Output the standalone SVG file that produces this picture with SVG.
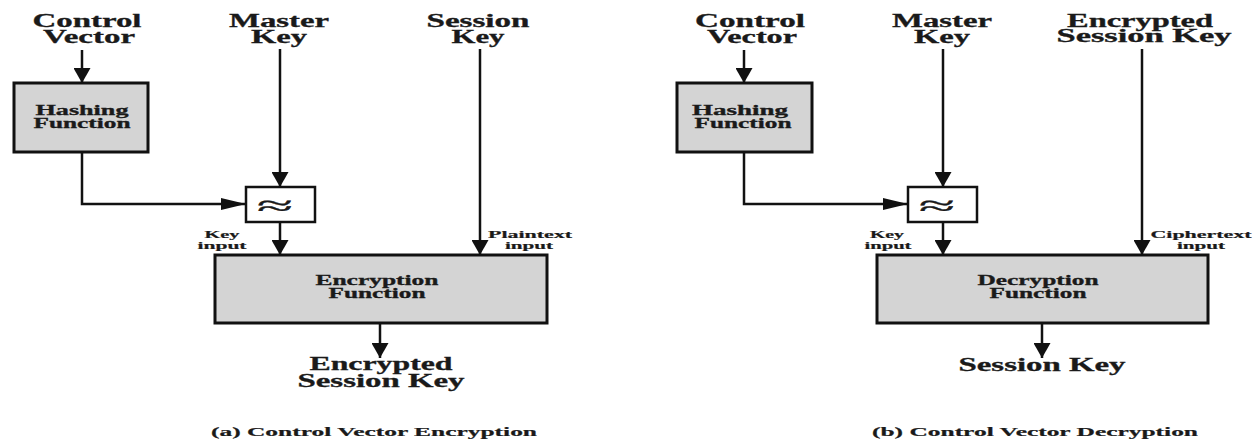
<svg xmlns="http://www.w3.org/2000/svg" width="1255" height="440" viewBox="0 0 1255 440">
  <style>
    text { font-family: "Liberation Serif", "Times New Roman", serif; font-weight: bold; fill: #1a1a1a; stroke: #1a1a1a; stroke-width: 0.3; text-anchor: middle; }
    .big { font-size: 18px; }
    .mid { font-size: 14px; }
    .small { font-size: 11px; stroke-width: 0.2; }
    .cap { font-size: 12px; stroke-width: 0.2; }
    .sym { font-size: 28px; font-weight: normal; stroke-width: 0.4; }
    .box { fill: #d4d4d4; stroke: #111; stroke-width: 3; }
    .xbox { fill: #ffffff; stroke: #111; stroke-width: 2.5; }
    .wire { fill: none; stroke: #111; stroke-width: 2.5; }
    .down { marker-end: url(#ahV); }
    .right { marker-end: url(#ahH); }
  </style>
  <defs>
    <!-- vertical arrows get a wide, short head; horizontal ones a long, flat head -->
    <marker id="ahV" markerUnits="userSpaceOnUse" markerWidth="15" markerHeight="17" refX="15" refY="8.5" orient="auto">
      <path d="M0,0 L15,8.5 L0,17 z" fill="#111"/>
    </marker>
    <marker id="ahH" markerUnits="userSpaceOnUse" markerWidth="25" markerHeight="12" refX="25" refY="6" orient="auto">
      <path d="M0,0 L25,6 L0,12 z" fill="#111"/>
    </marker>
  </defs>

  <!-- ===== (a) Control Vector Encryption ===== -->
  <g id="a-control-vector">
    <text class="big" x="87" y="27" textLength="109" lengthAdjust="spacingAndGlyphs">Control</text>
    <text class="big" x="89" y="43" textLength="92" lengthAdjust="spacingAndGlyphs">Vector</text>
  </g>
  <g id="a-master-key">
    <text class="big" x="279" y="27" textLength="100" lengthAdjust="spacingAndGlyphs">Master</text>
    <text class="big" x="279" y="43" textLength="56" lengthAdjust="spacingAndGlyphs">Key</text>
  </g>
  <g id="a-session-key">
    <text class="big" x="478" y="27" textLength="103" lengthAdjust="spacingAndGlyphs">Session</text>
    <text class="big" x="478" y="43" textLength="53" lengthAdjust="spacingAndGlyphs">Key</text>
  </g>
  <g id="a-hashing">
    <rect class="box" x="14" y="83" width="134" height="69"/>
    <text class="mid" x="82" y="115" textLength="93" lengthAdjust="spacingAndGlyphs">Hashing</text>
    <text class="mid" x="82" y="128" textLength="97" lengthAdjust="spacingAndGlyphs">Function</text>
  </g>
  <g id="a-combine">
    <rect class="xbox" x="246" y="187" width="69" height="35"/>
    <text class="sym" x="275" y="215" textLength="36" lengthAdjust="spacingAndGlyphs">≈</text>
  </g>
  <g id="a-encryption">
    <rect class="box" x="215" y="255" width="332" height="68"/>
    <text class="mid" x="377" y="285" textLength="123" lengthAdjust="spacingAndGlyphs">Encryption</text>
    <text class="mid" x="377" y="298" textLength="97" lengthAdjust="spacingAndGlyphs">Function</text>
  </g>
  <g id="a-key-input">
    <text class="small" x="222" y="238" textLength="35" lengthAdjust="spacingAndGlyphs">Key</text>
    <text class="small" x="222" y="249" textLength="49" lengthAdjust="spacingAndGlyphs">input</text>
  </g>
  <g id="a-plaintext-input">
    <text class="small" x="530" y="238" textLength="84" lengthAdjust="spacingAndGlyphs">Plaintext</text>
    <text class="small" x="529" y="249" textLength="48" lengthAdjust="spacingAndGlyphs">input</text>
  </g>
  <g id="a-output">
    <text class="big" x="381" y="370" textLength="143" lengthAdjust="spacingAndGlyphs">Encrypted</text>
    <text class="big" x="381" y="387" textLength="167" lengthAdjust="spacingAndGlyphs">Session Key</text>
  </g>
  <g id="a-caption">
    <text class="cap" x="374" y="436" textLength="326" lengthAdjust="spacingAndGlyphs">(a) Control Vector Encryption</text>
  </g>

  <!-- ===== (b) Control Vector Decryption ===== -->
  <g id="b-control-vector">
    <text class="big" x="750" y="27" textLength="110" lengthAdjust="spacingAndGlyphs">Control</text>
    <text class="big" x="752" y="43" textLength="90" lengthAdjust="spacingAndGlyphs">Vector</text>
  </g>
  <g id="b-master-key">
    <text class="big" x="942" y="27" textLength="100" lengthAdjust="spacingAndGlyphs">Master</text>
    <text class="big" x="942" y="43" textLength="56" lengthAdjust="spacingAndGlyphs">Key</text>
  </g>
  <g id="b-encrypted-session-key">
    <text class="big" x="1140" y="27" textLength="146" lengthAdjust="spacingAndGlyphs">Encrypted</text>
    <text class="big" x="1144" y="42" textLength="175" lengthAdjust="spacingAndGlyphs">Session Key</text>
  </g>
  <g id="b-hashing">
    <rect class="box" x="677" y="83" width="135" height="69"/>
    <text class="mid" x="740" y="115" textLength="96" lengthAdjust="spacingAndGlyphs">Hashing</text>
    <text class="mid" x="743" y="128" textLength="97" lengthAdjust="spacingAndGlyphs">Function</text>
  </g>
  <g id="b-combine">
    <rect class="xbox" x="908" y="187" width="69" height="35"/>
    <text class="sym" x="937" y="215" textLength="36" lengthAdjust="spacingAndGlyphs">≈</text>
  </g>
  <g id="b-decryption">
    <rect class="box" x="877" y="255" width="331" height="68"/>
    <text class="mid" x="1038" y="285" textLength="121" lengthAdjust="spacingAndGlyphs">Decryption</text>
    <text class="mid" x="1038" y="298" textLength="97" lengthAdjust="spacingAndGlyphs">Function</text>
  </g>
  <g id="b-key-input">
    <text class="small" x="887" y="238" textLength="34" lengthAdjust="spacingAndGlyphs">Key</text>
    <text class="small" x="888" y="249" textLength="47" lengthAdjust="spacingAndGlyphs">input</text>
  </g>
  <g id="b-ciphertext-input">
    <text class="small" x="1201" y="238" textLength="101" lengthAdjust="spacingAndGlyphs">Ciphertext</text>
    <text class="small" x="1201" y="249" textLength="48" lengthAdjust="spacingAndGlyphs">input</text>
  </g>
  <g id="b-output">
    <text class="big" x="1042" y="371" textLength="167" lengthAdjust="spacingAndGlyphs">Session Key</text>
  </g>
  <g id="b-caption">
    <text class="cap" x="1035" y="436" textLength="326" lengthAdjust="spacingAndGlyphs">(b) Control Vector Decryption</text>
  </g>

  <!-- ===== connectors ===== -->
  <g id="connectors">
    <!-- (a) -->
    <line class="wire down" x1="82" y1="50" x2="82" y2="83"/>
    <path class="wire right" d="M82,152 V204 H246"/>
    <line class="wire down" x1="280" y1="49" x2="280" y2="187"/>
    <line class="wire down" x1="280" y1="222" x2="280" y2="255"/>
    <line class="wire down" x1="480" y1="49" x2="480" y2="255"/>
    <line class="wire down" x1="380" y1="323" x2="380" y2="358"/>
    <!-- (b) -->
    <line class="wire down" x1="744" y1="50" x2="744" y2="83"/>
    <path class="wire right" d="M744,152 V204 H908"/>
    <line class="wire down" x1="943" y1="49" x2="943" y2="187"/>
    <line class="wire down" x1="943" y1="222" x2="943" y2="255"/>
    <line class="wire down" x1="1142" y1="49" x2="1142" y2="255"/>
    <line class="wire down" x1="1042" y1="323" x2="1042" y2="358"/>
  </g>
</svg>
